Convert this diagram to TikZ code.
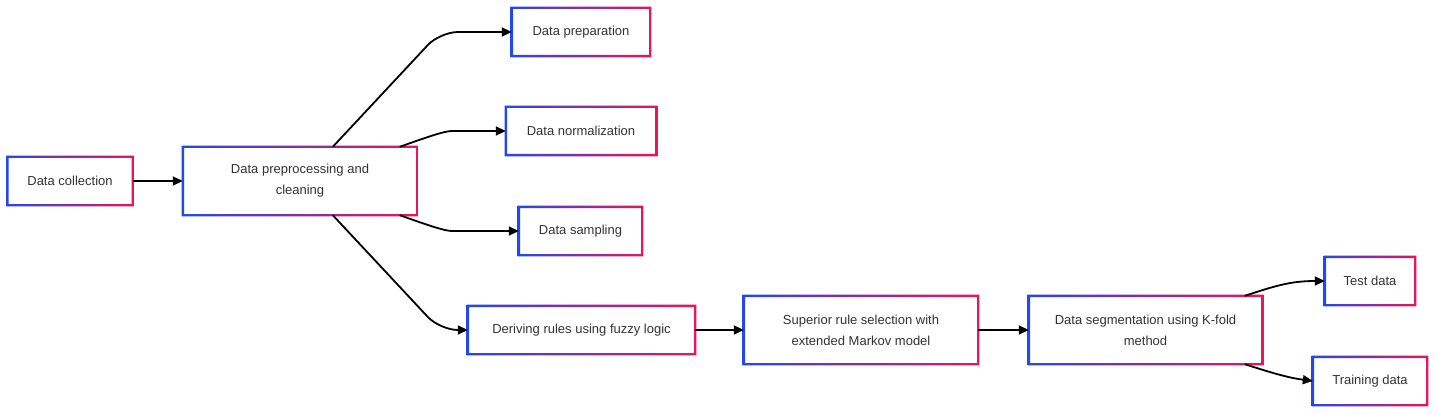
\documentclass[tikz,border=0pt]{standalone}
\usepackage{fontspec}
\setmainfont{Liberation Sans}
\usetikzlibrary{calc,arrows.meta}
\definecolor{gb}{HTML}{2447EE}
\definecolor{gr}{HTML}{EA1558}
\definecolor{tx}{HTML}{333333}
\tikzset{
  box/.style={inner sep=0pt, align=center, text=tx, font=\fontsize{13}{21}\selectfont},
  conn/.style={line width=1.8pt, -{Triangle[length=10pt,width=9pt]}, rounded corners=18pt},
}
\newcommand{\gframe}[1]{%
  \shade[left color=gb,right color=gr,even odd rule]
    ($(#1.south west)+(-1.2,1.2)$) rectangle ($(#1.north east)+(1.2,-1.2)$)
    ($(#1.south west)+(1.2,-1.2)$) rectangle ($(#1.north east)+(-1.2,1.2)$);}
\begin{document}
\begin{tikzpicture}[x=1pt,y=-1pt]
\useasboundingbox[fill=white] (0,0) rectangle (1439,414);
\node[box,minimum width=125,minimum height=48] (col) at (70,181) {Data collection};
\node[box,minimum width=234,minimum height=68] (pre) at (300,181) {Data preprocessing and\\cleaning};
\node[box,minimum width=138,minimum height=48] (prep) at (581,32) {Data preparation};
\node[box,minimum width=150,minimum height=48] (norm) at (581,131) {Data normalization};
\node[box,minimum width=123,minimum height=48] (samp) at (580.5,231) {Data sampling};
\node[box,minimum width=227,minimum height=48] (der) at (581.5,330) {Deriving rules using fuzzy logic};
\node[box,minimum width=234,minimum height=68] (sup) at (861,330) {Superior rule selection with\\extended Markov model};
\node[box,minimum width=233,minimum height=68] (seg) at (1145.5,330) {Data segmentation using K-fold\\method};
\node[box,minimum width=90,minimum height=48] (test) at (1370,281) {Test data};
\node[box,minimum width=114,minimum height=48] (train) at (1370,381) {Training data};
\foreach \n in {col,pre,prep,norm,samp,der,sup,seg,test,train} {\gframe{\n}}
\draw[conn] (col) -- (pre);
\draw[conn] ($(pre.north west)+(150,0)$) -- (440,32) -- (prep.west);
\draw[conn] ($(pre.north west)+(217,0)$) .. controls (430,136) and (445,131) .. (470,131) -- (norm.west);
\draw[conn] ($(pre.south west)+(217,0)$) .. controls (430,226) and (445,231) .. (470,231) -- (samp.west);
\draw[conn] ($(pre.south west)+(150,0)$) -- (440,330) -- (der.west);
\draw[conn] (der) -- (sup);
\draw[conn] (sup) -- (seg);
\draw[conn] ($(seg.north west)+(216,0)$) .. controls (1275,286) and (1290,281) .. (test.west);
\draw[conn] ($(seg.south west)+(216,0)$) .. controls (1275,374) and (1290,378) .. (train.west);
\end{tikzpicture}
\end{document}
